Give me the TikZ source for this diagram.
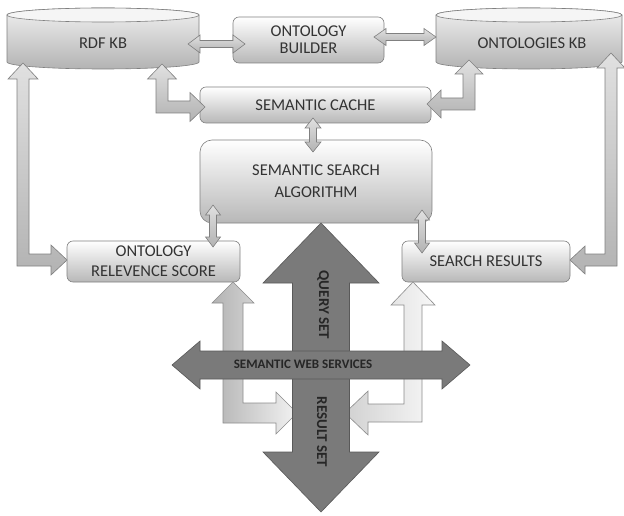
\documentclass[tikz,border=0pt]{standalone}
\usepackage{fontspec}
\setmainfont{Carlito}
\newcommand\vdarrow[7]{%
 \path[#7] (#1,-#2) -- ({#1+#5},{-(#2+#6)}) -- ({#1+#4},{-(#2+#6)}) -- ({#1+#4},{-(#3-#6)}) -- ({#1+#5},{-(#3-#6)}) -- (#1,-#3) -- ({#1-#5},{-(#3-#6)}) -- ({#1-#4},{-(#3-#6)}) -- ({#1-#4},{-(#2+#6)}) -- ({#1-#5},{-(#2+#6)}) -- cycle;}
\newcommand\hdarrow[7]{%
 \path[#7] (#2,-#1) -- ({#2+#6},{-(#1-#5)}) -- ({#2+#6},{-(#1-#4)}) -- ({#3-#6},{-(#1-#4)}) -- ({#3-#6},{-(#1-#5)}) -- (#3,-#1) -- ({#3-#6},{-(#1+#5)}) -- ({#3-#6},{-(#1+#4)}) -- ({#2+#6},{-(#1+#4)}) -- ({#2+#6},{-(#1+#5)}) -- cycle;}
\newcommand\elbowarrow[9]{%
 \path[#9] (#1,-#2) -- ({#1+#6},{-(#2+#7)}) -- ({#1+#5},{-(#2+#7)}) -- ({#1+#5},{-(#3-(#8)*#5)}) -- ({#4-(#8)*#7},{-(#3-(#8)*#5)}) -- ({#4-(#8)*#7},{-(#3-(#8)*#6)}) -- (#4,-#3) -- ({#4-(#8)*#7},{-(#3+(#8)*#6)}) -- ({#4-(#8)*#7},{-(#3+(#8)*#5)}) -- ({#1-#5},{-(#3+(#8)*#5)}) -- ({#1-#5},{-(#2+#7)}) -- ({#1-#6},{-(#2+#7)}) -- cycle;}
\begin{document}
\begin{tikzpicture}[x=1pt,y=1pt,
  box/.style={draw=black!50, line width=0.6pt, rounded corners=6pt, top color=white, bottom color=black!28, text=black!80, align=center, font=\fontsize{16.5}{20}\selectfont, inner sep=0pt},
  cyl/.style={draw=black!50, line width=0.6pt, top color=black!6, bottom color=black!30},
  larr/.style={draw=black!50, line width=0.6pt, top color=black!12, bottom color=black!30},
  lowl/.style={draw=black!45, line width=0.6pt, left color=black!30, right color=black!5},
  lowr/.style={draw=black!45, line width=0.6pt, left color=black!18, right color=black!3},
  darr/.style={draw=black!65, line width=0.6pt, fill=black!52},
  lbl/.style={text=black!80, font=\fontsize{16.5}{20}\selectfont, align=center},
  blbl/.style={text=black!85, font=\bfseries\fontsize{15}{18}\selectfont}
]
\useasboundingbox (0,0) rectangle (624,-516);
% cylinders
\path[cyl] (7,-15) -- (7,-62) arc[start angle=180,end angle=360,x radius=96,y radius=7] -- (199,-15) arc[start angle=0,end angle=180,x radius=96,y radius=7] -- cycle;
\path[draw=black!50, line width=0.6pt, fill=black!4] (103,-15) ellipse [x radius=96,y radius=7];
\node[lbl] (rdf) at (103,-43) {RDF KB};
\path[cyl] (436,-15) -- (436,-62) arc[start angle=180,end angle=360,x radius=93,y radius=7] -- (622,-15) arc[start angle=0,end angle=180,x radius=93,y radius=7] -- cycle;
\path[draw=black!50, line width=0.6pt, fill=black!4] (529,-15) ellipse [x radius=93,y radius=7];
\node[lbl] (okb) at (532,-43) {ONTOLOGIES KB};
% boxes
\node[box, minimum width=151pt, minimum height=46pt, font=\fontsize{16.5}{17}\selectfont] (builder) at (308.5,-40) {ONTOLOGY\\BUILDER};
\node[box, minimum width=231pt, minimum height=36pt] (cache) at (315.5,-105) {SEMANTIC CACHE};
\node[box, rounded corners=12pt, minimum width=232pt, minimum height=83pt, font=\fontsize{16.5}{22}\selectfont] (algo) at (316,-181.5) {SEMANTIC SEARCH\\ALGORITHM};
\node[box, minimum width=173pt, minimum height=41pt] (relev) at (153.5,-261.5) {ONTOLOGY\\RELEVENCE SCORE};
\node[box, minimum width=168pt, minimum height=41pt] (results) at (486,-261.5) {SEARCH RESULTS};
% straight double arrows
\hdarrow{44}{188}{245}{3.5}{9}{12}{larr}
\hdarrow{37}{374}{436}{3.5}{8.5}{12}{larr}
\vdarrow{313}{118}{152}{3.5}{8}{10}{larr}
\vdarrow{213}{205}{247}{3.5}{7.5}{10}{larr}
\vdarrow{422}{210}{253}{3.5}{7.5}{10}{larr}
% elbow arrows
\elbowarrow{162}{64}{107}{205}{6}{14.5}{15}{1}{larr}
\elbowarrow{469}{60}{104}{427}{6}{14}{14}{-1}{larr}
\elbowarrow{23}{63}{260}{67}{6}{15}{16}{1}{larr}
\elbowarrow{611}{53}{260}{570}{6}{14}{15}{-1}{larr}
\elbowarrow{233}{282}{413}{297}{10}{21}{21}{1}{lowl}
\elbowarrow{413}{282}{413}{345}{9}{22}{23}{-1}{lowr}
% dark cross
\vdarrow{321}{223}{512}{28.5}{58}{60}{darr}
\hdarrow{365}{172}{470}{14}{24}{28}{darr}
\node[blbl, rotate=-90] (query) at (323,-305) {QUERY SET};
\node[blbl, rotate=-90] (result) at (322,-432) {RESULT SET};
\node[blbl, font=\bfseries\fontsize{13}{16}\selectfont] (sws) at (303,-364) {SEMANTIC WEB SERVICES};
\end{tikzpicture}
\end{document}
